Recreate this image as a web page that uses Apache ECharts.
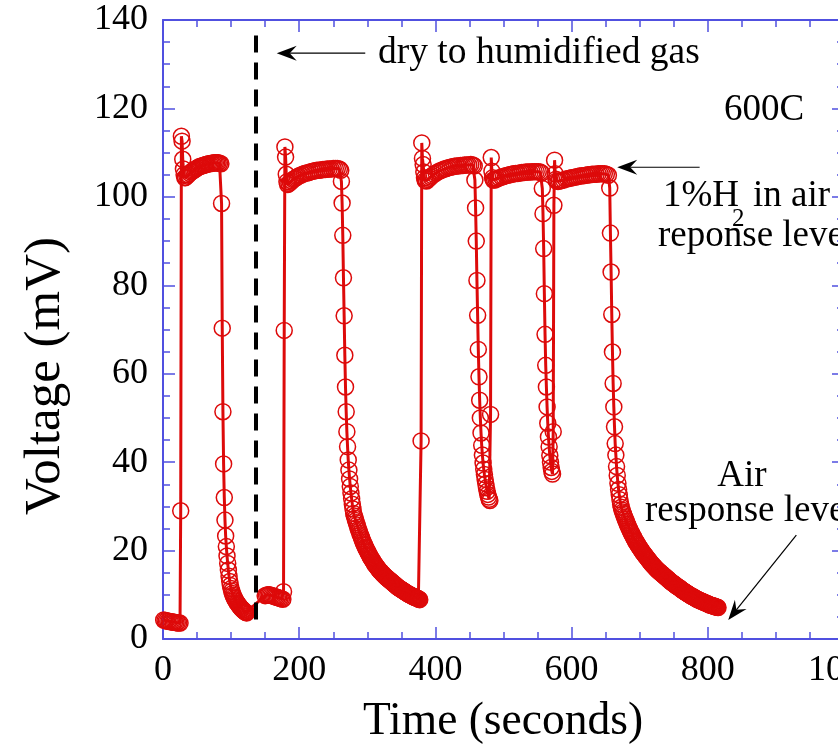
<!DOCTYPE html>
<html>
<head>
<meta charset="utf-8">
<script src="https://cdn.jsdelivr.net/npm/echarts@6/dist/echarts.min.js"></script>
<style>
  html, body { margin: 0; padding: 0; background: #fff; }
  #chart { width: 838px; height: 745px; }
</style>
</head>
<body>
<div id="chart"></div>
<script>
// ---- data: [time (s), voltage (mV)] ----
var base1 = [[1,4.3],[3,4.2],[5,4.1],[7,4.0],[9,4.0],[11,3.9],[13,3.9],[15,3.8],[17,3.8],[19,3.7],[21,3.7],[23,3.6],[25,3.6]];
var rise1 = [[26,29.0],[27,113.7],[28,112.6],[29,108.5],[30,106.3],[31,105.0],[32,104.3]];
var band1 = [[33,104.4],[35,104.7],[37,105.0],[39,105.3],[41,105.6],[43,105.8],[45,106.0],[47,106.2],[49,106.4],[51,106.6],[53,106.8],[55,106.9],[57,107.0],[59,107.1],[61,107.2],[63,107.3],[65,107.4],[67,107.5],[69,107.5],[71,107.6],[73,107.6],[75,107.7],[77,107.7],[79,107.7],[81,107.7],[83,107.6],[85,107.5]];
var drop1 = [[86,98.5],[87,70.3],[88,51.4],[89,39.6],[90,32.0],[91,26.9],[92,23.3],[93,20.9],[94,18.8],[95,17.1],[96,15.6],[97,14.2],[98,13.0],[99,12.1],[100,11.4],[101,10.8],[102,10.3],[103,9.9],[104,9.5],[105,9.2],[106,8.9],[107,8.6],[108,8.4],[109,8.1],[110,7.9],[111,7.7],[112,7.5],[113,7.3],[114,7.1],[115,6.9],[116,6.8],[117,6.6],[118,6.5],[119,6.3],[120,6.2],[121,6.1],[122,6.0],[123,5.9]];
var base2 = [[150,9.8],[152,9.9],[154,10.0],[156,10.0],[158,9.9],[160,9.8],[162,9.7],[164,9.6],[166,9.5],[168,9.4],[170,9.3],[172,9.2],[174,9.1],[176,9.0],[177,10.7]];
var rise2 = [[178,69.8],[179,111.3],[180,109.0],[181,105.1],[182,103.4]];
var band2 = [[183,102.8],[185,103.0],[187,103.3],[189,103.6],[191,103.9],[193,104.1],[195,104.3],[197,104.5],[199,104.7],[202,104.9],[205,105.1],[208,105.3],[211,105.4],[214,105.5],[217,105.7],[220,105.8],[223,105.9],[226,106.0],[229,106.0],[232,106.1],[235,106.2],[238,106.2],[241,106.3],[244,106.3],[247,106.3],[250,106.4],[253,106.4],[256,106.4],[259,106.3],[261,106.0]];
var drop2 = [[262,103.5],[263,98.6],[264,91.3],[265,81.7],[266,73.1],[267,64.2],[268,57.0],[269,51.4],[270,46.9],[271,43.5],[272,40.5],[273,38.2],[274,36.2],[275,34.5],[276,33.0],[277,31.7],[278,30.5],[279,29.4],
  [280,28.4],[281,27.8],[282,27.3],[283,26.8],[284,26.3],[285,25.8],[286,25.3],[287,24.8],[288,24.4],[289,23.9],[290,23.5],[291,23.1],[292,22.7],[293,22.3],[294,21.9],[295,21.5],[296,21.2],[297,20.8],[298,20.5],[299,20.2],
  [300,19.9],[301,19.6],[302,19.3],[303,19.0],[304,18.7],[305,18.4],[306,18.2],[307,17.9],[308,17.7],[309,17.4],[310,17.2],[311,16.9],[312,16.7],[313,16.5],[314,16.3],[315,16.1],[316,15.9],[317,15.7],[318,15.5],[319,15.3],
  [320,15.2],[321,15.0],[322,14.8],[323,14.7],[324,14.5],[325,14.4],[326,14.2],[327,14.1],[328,13.9],[329,13.8],[330,13.7],[331,13.5],[332,13.4],[333,13.3],[334,13.2],[335,13.0],[336,12.9],[337,12.8],[338,12.6],[339,12.5],
  [340,12.4],[341,12.2],[342,12.1],[343,12.0],[344,11.8],[345,11.7],[346,11.6],[347,11.5],[348,11.4],[349,11.3],[350,11.2],[351,11.1],[352,11.0],[353,10.9],[354,10.8],[355,10.7],[356,10.6],[357,10.5],[358,10.4],[359,10.3],
  [360,10.2],[361,10.1],[362,10.0],[363,10.0],[364,9.9],[365,9.8],[366,9.7],[367,9.6],[368,9.6],[369,9.5],[370,9.4],[371,9.4],[372,9.3],[373,9.2],[374,9.2],[375,9.1],[376,9.0],[377,8.9]];
var rise3 = [[379,44.8],[380,112.2],[381,108.7],[382,107.3],[383,105.6],[384,104.3],[385,103.7]];
var band3 = [[387,103.6],[389,103.9],[391,104.2],[393,104.5],[395,104.8],[398,105.1],[401,105.4],[404,105.7],[407,105.9],[410,106.1],[413,106.3],[416,106.4],[419,106.6],[422,106.7],[425,106.8],[428,106.9],[431,107.0],[434,107.0],[437,107.1],[440,107.1],[443,107.2],[446,107.2],[449,107.2],[452,107.3],[455,107.2],[457,107.0]];
var drop3 = [[458,103.8],[459,97.5],[460,90.0],[461,81.1],[462,73.2],[463,65.5],[464,59.3],[465,54.0],[466,50.0],[467,46.6],[468,43.8],[469,41.6],[470,39.8],[471,38.4],[472,37.2],[473,36.1],[474,35.1],[475,34.2],[476,33.4],[477,32.7],[478,32.1],[479,31.6],[480,31.3]];
var rise4 = [[481,50.8],[482,108.9],[483,105.8],[484,104.3],[485,103.8]];
var band4 = [[487,103.8],[489,104.0],[491,104.1],[494,104.3],[497,104.5],[500,104.6],[503,104.8],[506,104.9],[509,105.0],[512,105.1],[515,105.2],[518,105.3],[521,105.3],[524,105.4],[527,105.5],[530,105.5],[533,105.6],[536,105.6],[539,105.6],[542,105.7],[545,105.7],[548,105.7],[551,105.7],[554,105.6],[556,105.4]];
var drop4 = [[557,101.9],[558,96.2],[559,88.3],[560,78.1],[561,68.9],[562,61.9],[563,57.0],[564,52.5],[565,48.8],[566,45.7],[567,43.5],[568,41.5],[569,40.0],[570,38.8],[571,37.9],[572,37.3]];
var rise5 = [[573,46.9],[574,98.1],[575,108.3],[576,105.2],[577,104.0],[578,103.6]];
var band5 = [[580,103.5],[582,103.6],[585,103.7],[588,103.8],[591,104.0],[594,104.1],[597,104.2],[600,104.3],[603,104.4],[606,104.5],[609,104.6],[612,104.7],[615,104.8],[618,104.8],[621,104.9],[624,105.0],[627,105.0],[630,105.1],[633,105.1],[636,105.1],[639,105.2],[642,105.2],[645,105.2],[648,105.2],[651,105.1],[654,104.9]];
var drop5 = [[656,102.0],[657,91.8],[658,83.0],[659,73.4],[660,64.9],[661,57.8],[662,52.5],[663,48.0],[664,44.2],[665,41.6],[666,39.0],[667,37.0],
  [668,35.2],[669,33.8],[670,32.6],[671,31.5],[672,30.5],[673,29.8],[674,29.2],[675,28.7],[676,28.3],[677,27.9],[678,27.5],[679,27.1],[680,26.7],[681,26.3],[682,25.9],[683,25.6],[684,25.2],[685,24.9],[686,24.5],[687,24.2],
  [688,23.9],[689,23.6],[690,23.3],[691,23.0],[692,22.7],[693,22.4],[694,22.1],[695,21.9],[696,21.6],[697,21.4],[698,21.1],[699,20.9],[700,20.6],[701,20.4],[702,20.2],[703,19.9],[704,19.7],[705,19.5],[706,19.3],[707,19.1],
  [708,18.9],[709,18.7],[710,18.5],[711,18.3],[712,18.1],[713,17.9],[714,17.7],[715,17.5],[716,17.3],[717,17.1],[718,16.9],[719,16.8],[720,16.6],[721,16.4],[722,16.3],[723,16.1],[724,15.9],[725,15.8],[726,15.6],[727,15.5],
  [728,15.3],[729,15.2],[730,15.1],[731,14.9],[732,14.8],[733,14.7],[734,14.5],[735,14.4],[736,14.3],[737,14.1],[738,14.0],[739,13.9],[740,13.7],[741,13.6],[742,13.5],[743,13.3],[744,13.2],[745,13.1],[746,12.9],[747,12.8],
  [748,12.7],[749,12.6],[750,12.5],[751,12.4],[752,12.2],[753,12.1],[754,12.0],[755,11.9],[756,11.8],[757,11.7],[758,11.6],[759,11.5],[760,11.4],[761,11.2],[762,11.1],[763,11.0],[764,10.9],[765,10.8],[766,10.7],[767,10.6],
  [768,10.5],[769,10.4],[770,10.3],[771,10.2],[772,10.1],[773,10.0],[774,9.9],[775,9.8],[776,9.7],[777,9.6],[778,9.6],[779,9.5],[780,9.4],[781,9.3],[782,9.2],[783,9.1],[784,9.0],[785,9.0],[786,8.9],[787,8.8],
  [788,8.7],[789,8.7],[790,8.6],[791,8.5],[792,8.5],[793,8.4],[794,8.3],[795,8.3],[796,8.2],[797,8.1],[798,8.1],[799,8.0],[800,7.9],[801,7.9],[802,7.8],[803,7.7],[804,7.7],[805,7.6],[806,7.6],[807,7.5],
  [808,7.5],[809,7.4],[810,7.4],[811,7.3],[812,7.3],[813,7.2],[814,7.2],[815,7.1]];

var gasSwitchTime = 136;           // dashed marker: dry -> humidified
var xTicks = [0, 200, 400, 600, 800, 1000];
var yTicks = [0, 20, 40, 60, 80, 100, 120, 140];

var voltage = [].concat(base1, rise1, band1, drop1, base2, rise2, band2, drop2,
    rise3, band3, drop3, rise4, band4, drop4, rise5, band5, drop5);

// ---- styling ----
var RED = '#dd0a0a';
var BLUE = '#5050e0';
var FONT = '"Liberation Serif", "Times New Roman", serif';

function frameAxis(pos, showLabels, isX) {
    return {
        type: 'value',
        position: pos,
        min: isX ? xTicks[0] : yTicks[0],
        max: isX ? xTicks[xTicks.length - 1] : yTicks[yTicks.length - 1],
        interval: isX ? 200 : 20,
        splitLine: { show: false },
        axisLine: { show: true, onZero: false, lineStyle: { color: BLUE, width: 2 } },
        axisTick: { show: true, inside: true, length: 12, lineStyle: { color: BLUE, width: 1.5 } },
        minorTick: { show: true, splitNumber: 4, length: 7, lineStyle: { color: BLUE, width: 1.5 } },
        axisLabel: {
            show: showLabels, color: '#000', fontFamily: FONT, fontSize: 36,
            margin: isX ? 14 : 15,
            formatter: function (v) { return String(v); }
        }
    };
}

function label(text, x, y, size, align, rot) {
    return {
        type: 'text', x: x, y: y, rotation: rot || 0, z: 10,
        style: { text: text, fontFamily: FONT, fontSize: size, fill: '#000',
                 align: align || 'left', verticalAlign: 'middle' }
    };
}

var chart = echarts.init(document.getElementById('chart'), null, { renderer: 'canvas' });

var option = {
    animation: false,
    backgroundColor: '#fff',
    grid: { left: 163, top: 20, width: 681, height: 619, containLabel: false, outerBoundsMode: 'none' },
    xAxis: [frameAxis('bottom', true, true), frameAxis('top', false, true)],
    yAxis: [frameAxis('left', true, false), frameAxis('right', false, false)],
    series: [
        {
            type: 'line',
            data: voltage,
            showAllSymbol: true,
            symbol: 'circle',
            symbolSize: 16,
            itemStyle: { color: 'rgba(0,0,0,0)', borderColor: RED, borderWidth: 1.5 },
            lineStyle: { color: RED, width: 3 },
            z: 3
        },
        {
            type: 'line',
            data: [],
            markLine: {
                silent: true,
                symbol: ['none', 'none'],
                label: { show: false },
                lineStyle: { color: '#000', width: 4, type: [17, 10] },
                data: [[{ coord: [gasSwitchTime, 136.5] }, { coord: [gasSwitchTime, 2.5] }]]
            },
            z: 4
        }
    ],
    graphic: [
        label('Voltage (mV)', 46, 376, 51, 'center', Math.PI / 2),
        label('Time (seconds)', 503, 722, 45.5, 'center'),
        label('dry to humidified gas', 378, 53, 37.5),
        label('600C', 724, 110, 37),
        label('1%H', 663, 196, 37),
        label('2', 732, 219, 25),
        label('in air', 753, 196, 37),
        label('reponse level', 658, 236, 37),
        label('Air', 742, 476, 37, 'center'),
        label('response level', 645, 511, 37)
    ]
};

chart.setOption(option);

// annotation arrows, placed in data units: [from, to]
var arrows = [
    [[297, 132.5], [167, 132.5]],
    [[788, 106.7], [667, 106.7]],
    [[930, 23.5], [830, 4.3]]
];

var extra = [];
arrows.forEach(function (a) {
    var p0 = chart.convertToPixel({ gridIndex: 0 }, a[0]);
    var p1 = chart.convertToPixel({ gridIndex: 0 }, a[1]);
    var ang = Math.atan2(p1[1] - p0[1], p1[0] - p0[0]);
    var L = 20, W = 15, N = 13;
    function pt(dx, dy) {
        return [p1[0] + dx * Math.cos(ang) - dy * Math.sin(ang),
                p1[1] + dx * Math.sin(ang) + dy * Math.cos(ang)];
    }
    extra.push({ type: 'line', z: 10,
        shape: { x1: p0[0], y1: p0[1], x2: pt(-N, 0)[0], y2: pt(-N, 0)[1] },
        style: { stroke: '#000', lineWidth: 1.2 } });
    extra.push({ type: 'polygon', z: 10,
        shape: { points: [pt(0, 0), pt(-L, -W / 2), pt(-N, 0), pt(-L, W / 2)] },
        style: { fill: '#000' } });
});
chart.setOption({ graphic: option.graphic.concat(extra) });
</script>
</body>
</html>
